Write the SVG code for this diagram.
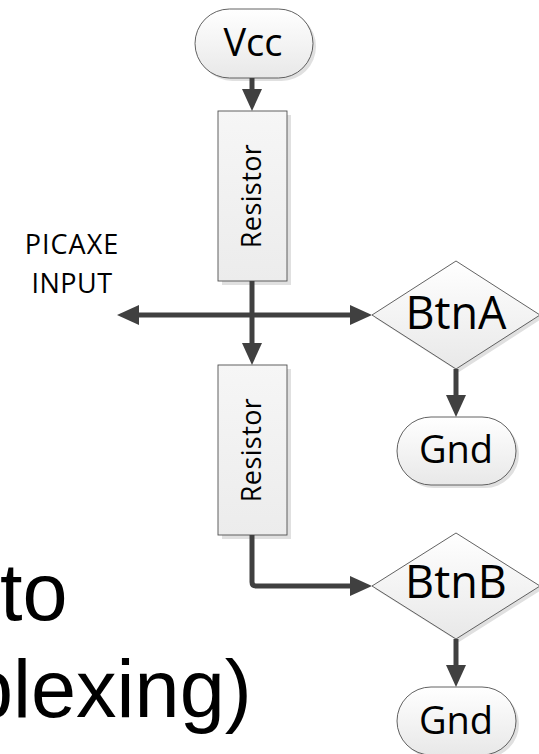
<svg xmlns="http://www.w3.org/2000/svg" width="539" height="754" viewBox="0 0 539 754">
  <defs>
    <linearGradient id="shapeFill" x1="0" y1="0" x2="0" y2="1">
      <stop offset="0" stop-color="#ffffff"/>
      <stop offset="1" stop-color="#e8e8e8"/>
    </linearGradient>
    <linearGradient id="boxFill" x1="0" y1="0" x2="0" y2="1">
      <stop offset="0" stop-color="#f6f6f6"/>
      <stop offset="1" stop-color="#ececec"/>
    </linearGradient>
    <marker id="arrow" markerUnits="userSpaceOnUse" markerWidth="22" markerHeight="20" refX="10" refY="10" orient="auto-start-reverse">
      <path d="M0,0 L22,10 L0,20 Z" fill="#404040"/>
    </marker>
  </defs>
  <style>
    .shape { fill: url(#shapeFill); stroke: #505050; stroke-width: 0.9; }
    .box { fill: url(#boxFill); stroke: #505050; stroke-width: 0.9; }
    .shadow { fill: #e0e0e0; stroke: none; }
    .label { font-family: "Open Sans", "Noto Sans", sans-serif; fill: #000; text-anchor: middle; }
    .big { font-family: "Liberation Sans", Arial, sans-serif; font-size: 81px; fill: #000; }
    .wire { fill: none; stroke: #404040; stroke-width: 5; stroke-linejoin: round; }
  </style>

  <rect width="539" height="754" fill="#ffffff"/>

  <!-- caption fragments running off the left edge -->
  <text class="big" x="0" y="620">to</text>
  <text class="big" x="-32" y="717">plexing)</text>

  <g id="picaxe-input">
    <text class="label" x="72" y="254" font-size="27" letter-spacing="1">PICAXE</text>
    <text class="label" x="72" y="293" font-size="27" letter-spacing="0.5">INPUT</text>
  </g>

  <g id="vcc">
    <rect class="shadow" x="198" y="12" width="118" height="69" rx="34.5"/>
    <rect class="shape" x="195" y="9" width="118" height="69" rx="34.5"/>
    <text class="label" x="253" y="56" font-size="38">Vcc</text>
  </g>

  <g id="resistor1">
    <rect class="shadow" x="222" y="115" width="69" height="170"/>
    <rect class="box" x="218" y="111" width="69" height="170"/>
    <text class="label" font-size="27" letter-spacing="0.4" transform="translate(261,196) rotate(-90)">Resistor</text>
  </g>

  <g id="resistor2">
    <rect class="shadow" x="222" y="369" width="69" height="170"/>
    <rect class="box" x="218" y="365" width="69" height="170"/>
    <text class="label" font-size="27" letter-spacing="0.4" transform="translate(261,450) rotate(-90)">Resistor</text>
  </g>

  <g id="btnA">
    <polygon class="shadow" points="375,318 459,264 543,318 459,372"/>
    <polygon class="shape" points="372,315 456,261 540,315 456,369"/>
    <text class="label" x="456" y="329" font-size="45">BtnA</text>
  </g>

  <g id="gndA">
    <rect class="shadow" x="400" y="420" width="119" height="68" rx="34"/>
    <rect class="shape" x="397" y="417" width="119" height="68" rx="34"/>
    <text class="label" x="456" y="463" font-size="38">Gnd</text>
  </g>

  <g id="btnB">
    <polygon class="shadow" points="375,589 459,536 543,589 459,642"/>
    <polygon class="shape" points="372,586 456,533 540,586 456,639"/>
    <text class="label" x="456" y="598" font-size="45">BtnB</text>
  </g>

  <g id="gndB">
    <rect class="shadow" x="400" y="690" width="119" height="68" rx="34"/>
    <rect class="shape" x="397" y="687" width="119" height="68" rx="34"/>
    <text class="label" x="456" y="734" font-size="38">Gnd</text>
  </g>

  <g id="connectors">
    <path class="wire" d="M252,78 V99" marker-end="url(#arrow)"/>
    <path class="wire" d="M252,281 V353" marker-end="url(#arrow)"/>
    <path class="wire" d="M129,315 H360" marker-start="url(#arrow)" marker-end="url(#arrow)"/>
    <path class="wire" d="M456,369 V405" marker-end="url(#arrow)"/>
    <path class="wire" d="M252,535 V582 Q252,586 256,586 H360" marker-end="url(#arrow)"/>
    <path class="wire" d="M456,639 V675" marker-end="url(#arrow)"/>
  </g>
</svg>
